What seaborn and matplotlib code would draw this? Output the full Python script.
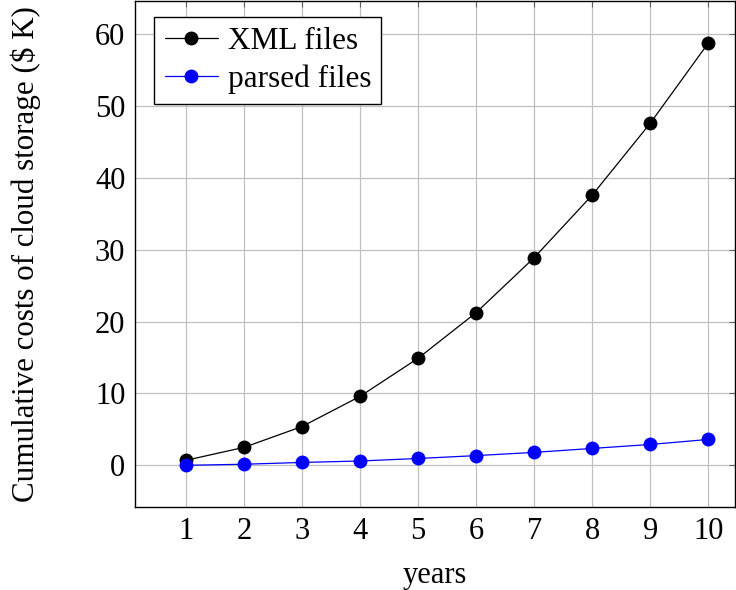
import seaborn as sns
import pandas as pd
import matplotlib
matplotlib.use('Agg')
from matplotlib import pyplot as plt

# Data
years = [1, 2, 3, 4, 5, 6, 7, 8, 9, 10]
xml_costs = [0.7, 2.5, 5.4, 9.6, 14.9, 21.25, 28.9, 37.6, 47.6, 58.75]
parsed_costs = [0.0, 0.15, 0.4, 0.6, 0.95, 1.35, 1.8, 2.35, 2.9, 3.6]
series_names = ['XML files', 'parsed files']

df = pd.DataFrame({
    'years': years * 2,
    'cost': xml_costs + parsed_costs,
    'series': [series_names[0]] * len(years) + [series_names[1]] * len(years),
})

sns.set_style('whitegrid')
plt.rcParams['font.family'] = ['Liberation Serif', 'DejaVu Serif']
plt.rcParams['font.size'] = 22
plt.rcParams['text.color'] = 'black'
plt.rcParams['axes.labelcolor'] = 'black'
plt.rcParams['xtick.color'] = 'black'
plt.rcParams['ytick.color'] = 'black'

fig = plt.figure(figsize=(7.36, 5.9), dpi=100)
ax = fig.add_axes([135 / 736, 1 - 507 / 590, 600 / 736, 506 / 590])

sns.lineplot(data=df, x='years', y='cost', hue='series',
             palette={series_names[0]: 'black', series_names[1]: 'blue'},
             marker='o', markersize=10, markeredgewidth=0,
             linewidth=0.9, ax=ax)

ax.set_xlim(0.12, 10.46)
ax.set_ylim(-5.8, 64.6)
ax.set_xticks(years)
ax.set_yticks([0, 10, 20, 30, 40, 50, 60])
ax.grid(True, color='#c0c0c0', linewidth=0.9)
ax.tick_params(direction='in', length=4, width=0.8, color='#606060',
               top=True, right=True, labelsize=22, labelcolor='black', pad=7)
for sp in ax.spines.values():
    sp.set_color('black')
    sp.set_linewidth(1.0)

ax.set_xlabel('years', fontsize=22, labelpad=11)
ax.set_ylabel('Cumulative costs of cloud storage (\\$ K)', fontsize=22.3)
ax.yaxis.set_label_coords(-0.156, 0.5)

leg = ax.legend(loc='upper left', bbox_to_anchor=(0.032, 0.969), frameon=True,
                fancybox=False, edgecolor='black', framealpha=1,
                fontsize=22.5, handlelength=1.72, handletextpad=0.3,
                borderpad=0.33, labelspacing=0.26, borderaxespad=0)
leg.get_frame().set_linewidth(1.0)

plt.savefig('out.png', dpi=100)
